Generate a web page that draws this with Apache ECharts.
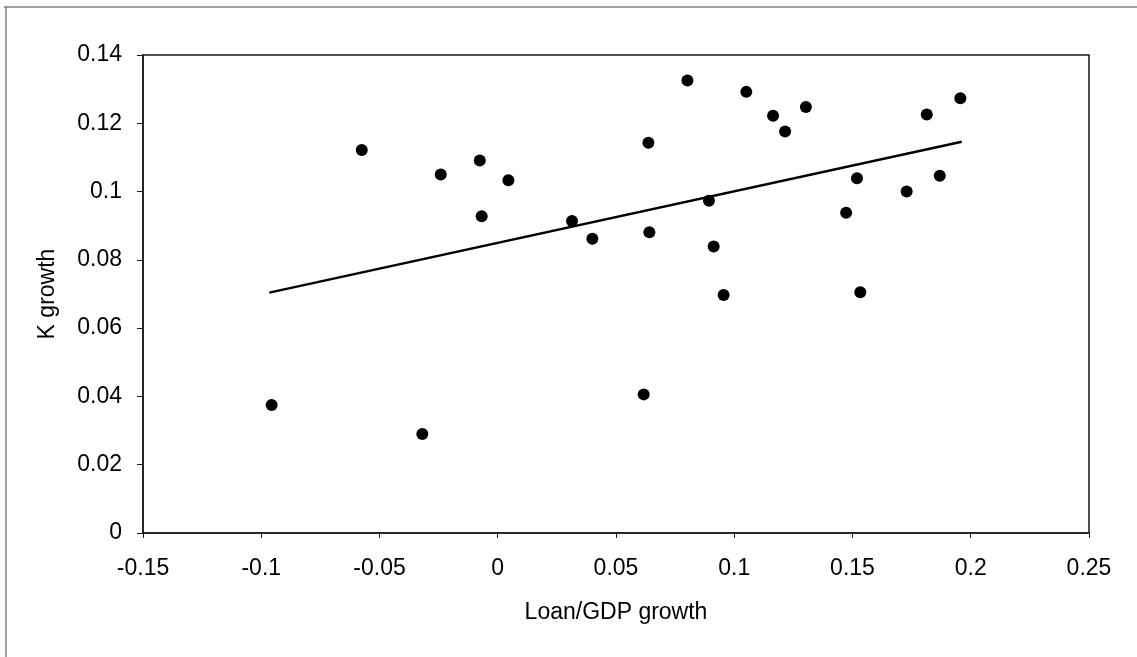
<!DOCTYPE html>
<html>
<head>
<meta charset="utf-8">
<script src="https://cdn.jsdelivr.net/npm/echarts@6/dist/echarts.min.js"></script>
<style>
html,body{margin:0;padding:0;background:#fff;}
#chart{width:1137px;height:657px;}
</style>
</head>
<body>
<div id="chart"></div>
<script>
// Data
var loanGdpGrowth = [-0.0956, -0.0575, -0.0319, -0.0241, -0.0076, -0.0068, 0.0045, 0.0314, 0.0400, 0.0617,
  0.0637, 0.0641, 0.0802, 0.0893, 0.0913, 0.0955, 0.1051, 0.1164, 0.1215, 0.1303,
  0.1473, 0.1519, 0.1533, 0.1729, 0.1814, 0.1869, 0.1956];
var kGrowth = [0.0375, 0.1122, 0.0290, 0.1050, 0.1091, 0.0928, 0.1033, 0.0914, 0.0862, 0.0406,
  0.1143, 0.0881, 0.1325, 0.0973, 0.0839, 0.0697, 0.1292, 0.1222, 0.1176, 0.1248,
  0.0938, 0.1039, 0.0705, 0.1000, 0.1226, 0.1046, 0.1273];
var trendX = [-0.0966, 0.1962];
var trendY = [0.0704, 0.1146];
var xTicks = {min: -0.15, max: 0.25, interval: 0.05};
var yTicks = {min: 0, max: 0.14, interval: 0.02};
var xTitle = 'Loan/GDP growth';
var yTitle = 'K growth';

var points = loanGdpGrowth.map(function (x, i) { return [x, kGrowth[i]]; });
var trend = trendX.map(function (x, i) { return [x, trendY[i]]; });

var FONT = '"Liberation Sans", Arial, sans-serif';
var chart = echarts.init(document.getElementById('chart'), null, {renderer: 'canvas'});
chart.setOption({
  backgroundColor: '#ffffff',
  animation: false,
  grid: {left: 143, right: 48, top: 55, bottom: 124, show: true, borderColor: '#1a1a1a', borderWidth: 1.5, backgroundColor: 'transparent'},
  xAxis: {
    type: 'value', min: xTicks.min, max: xTicks.max, interval: xTicks.interval,
    name: xTitle, nameLocation: 'middle', nameGap: 68,
    nameTextStyle: {fontFamily: FONT, fontSize: 23, color: '#000'},
    axisLine: {show: true, onZero: false, lineStyle: {color: '#1a1a1a', width: 1.5}},
    axisTick: {show: true, length: 5, lineStyle: {color: '#1a1a1a', width: 1}},
    axisLabel: {fontFamily: FONT, fontSize: 23, color: '#000', margin: 24},
    splitLine: {show: false}
  },
  yAxis: {
    type: 'value', min: yTicks.min, max: yTicks.max, interval: yTicks.interval,
    name: yTitle, nameLocation: 'middle', nameGap: 84, nameRotate: 90,
    nameTextStyle: {fontFamily: FONT, fontSize: 23, color: '#000'},
    axisLine: {show: true, onZero: false, lineStyle: {color: '#1a1a1a', width: 1.5}},
    axisTick: {show: true, length: 6, lineStyle: {color: '#1a1a1a', width: 1}},
    axisLabel: {fontFamily: FONT, fontSize: 23, color: '#000', margin: 21},
    splitLine: {show: false}
  },
  series: [
    {
      type: 'line', data: trend, showSymbol: false, symbol: 'none',
      lineStyle: {color: '#000', width: 2.4}, z: 2
    },
    {
      type: 'scatter', data: points, symbol: 'circle', symbolSize: 12,
      itemStyle: {color: '#000', opacity: 1}, z: 3
    }
  ],
  graphic: [
    {type: 'line', shape: {x1: 4, y1: 7, x2: 1137, y2: 7}, style: {stroke: '#444', lineWidth: 1}},
    {type: 'line', shape: {x1: 6, y1: 7, x2: 6, y2: 657}, style: {stroke: '#444', lineWidth: 1}}
  ]
});
</script>
</body>
</html>
